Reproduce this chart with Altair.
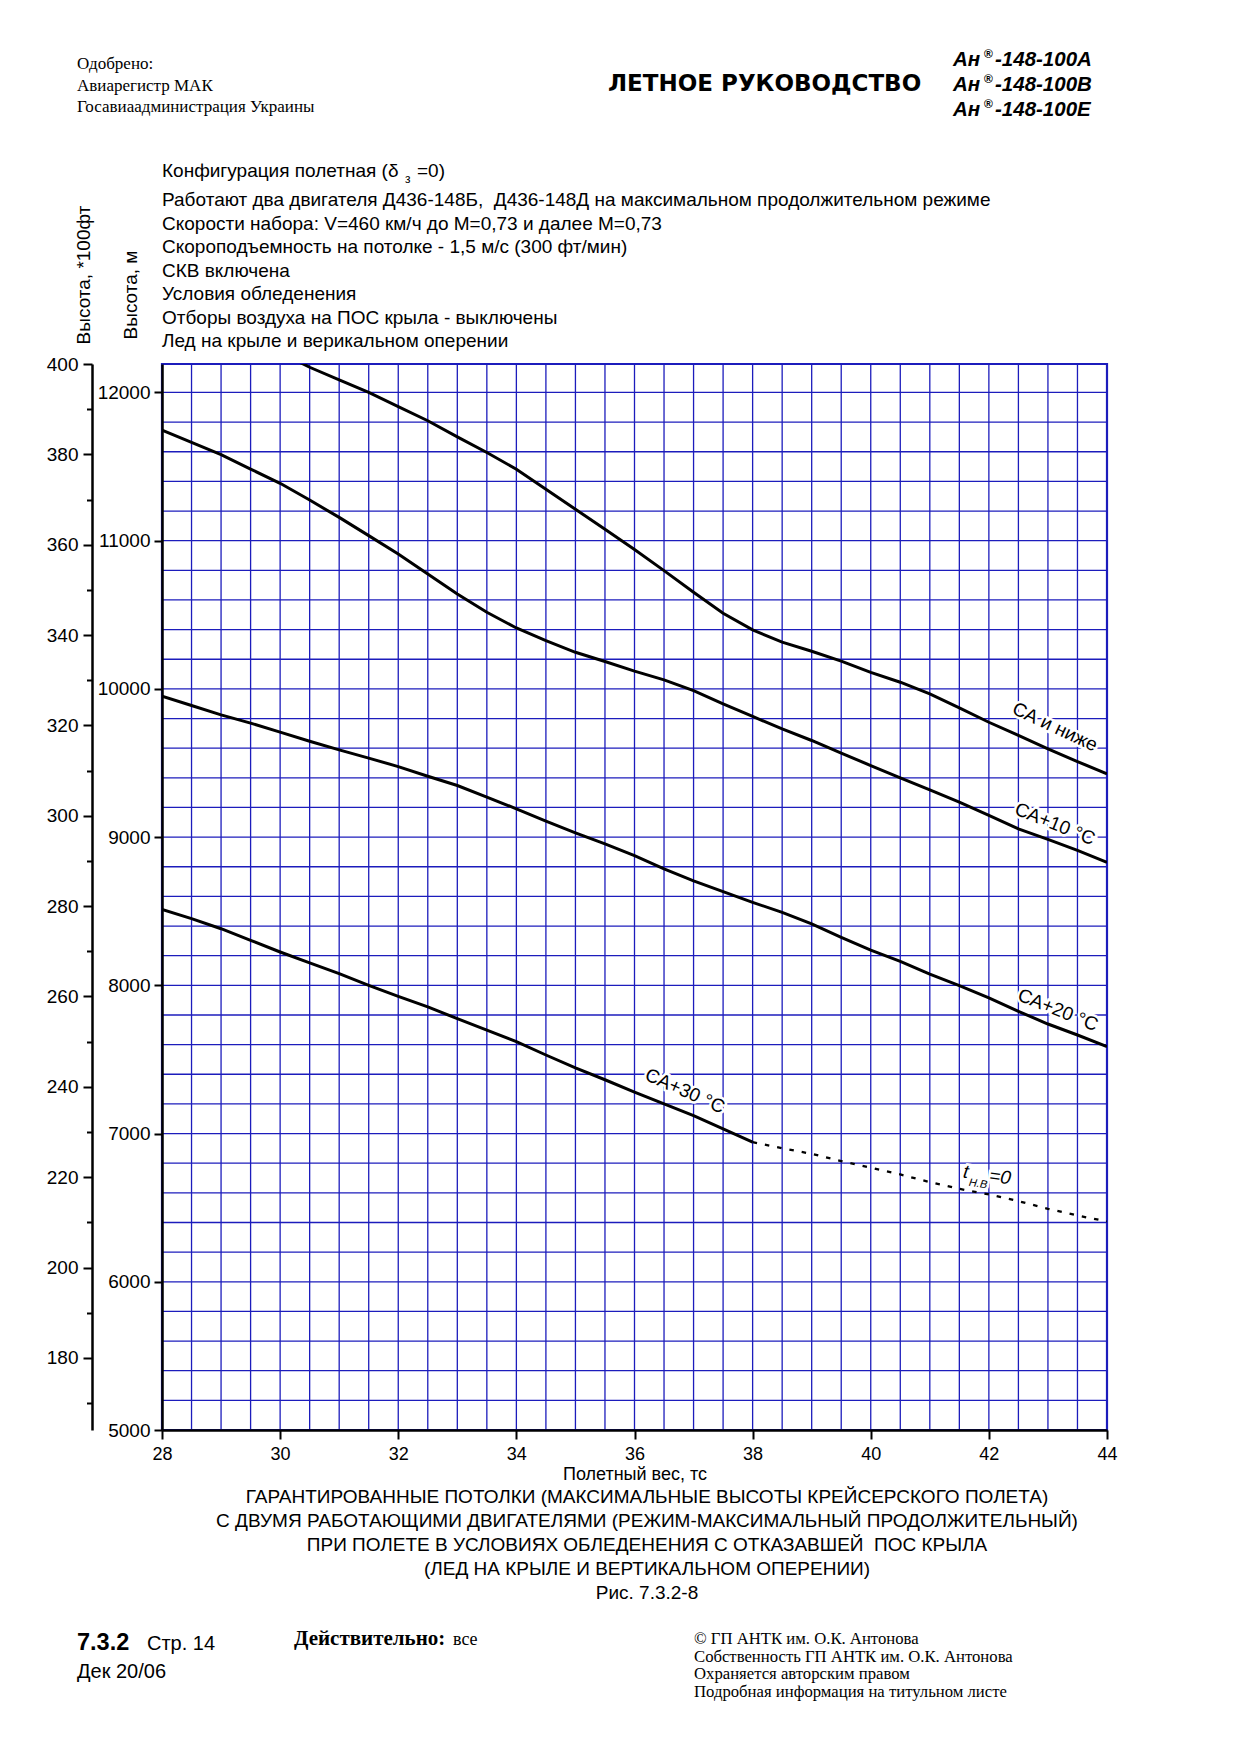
import altair as alt
import pandas as pd

# ---------------- data ----------------
W_ISA = [30.0, 30.5, 31.0, 31.5, 32.0, 32.5, 33.0, 33.5, 34.0, 34.5, 35.0, 35.5, 36.0, 36.5,
         37.0, 37.5, 38.0, 38.5, 39.0, 39.5, 40.0, 40.5, 41.0, 41.5, 42.0, 42.5, 43.0, 43.5, 44.0]
H_ISA = [12270, 12170, 12085, 12000, 11905, 11809, 11700, 11595, 11482, 11347, 11212, 11077, 10940,
         10798, 10652, 10510, 10398, 10315, 10254, 10187, 10112, 10045, 9966, 9872, 9775, 9686, 9596,
         9510, 9427]

W_FULL = [28.0, 28.5, 29.0, 29.5, 30.0, 30.5, 31.0, 31.5, 32.0, 32.5, 33.0, 33.5, 34.0, 34.5, 35.0,
          35.5, 36.0, 36.5, 37.0, 37.5, 38.0, 38.5, 39.0, 39.5, 40.0, 40.5, 41.0, 41.5, 42.0, 42.5,
          43.0, 43.5, 44.0]
H_ISA10 = [11746, 11663, 11580, 11483, 11387, 11274, 11157, 11034, 10910, 10775, 10640, 10517, 10411,
           10326, 10247, 10185, 10120, 10061, 9989, 9899, 9814, 9730, 9652, 9566, 9483, 9400, 9319,
           9236, 9146, 9056, 8985, 8910, 8830]
H_ISA20 = [9951, 9888, 9825, 9769, 9708, 9647, 9589, 9533, 9476, 9411, 9348, 9270, 9191, 9108, 9029,
           8955, 8875, 8785, 8705, 8632, 8560, 8492, 8414, 8324, 8238, 8162, 8076, 7998, 7915, 7825,
           7739, 7665, 7587]

W_ISA30 = [28.0, 28.5, 29.0, 29.5, 30.0, 30.5, 31.0, 31.5, 32.0, 32.5, 33.0, 33.5, 34.0, 34.5, 35.0,
           35.5, 36.0, 36.5, 37.0, 37.5, 38.0]
H_ISA30 = [8512, 8450, 8382, 8304, 8225, 8151, 8079, 8000, 7926, 7855, 7775, 7698, 7620, 7530, 7443,
           7363, 7280, 7200, 7121, 7032, 6942]

W_T0 = [38.0, 38.5, 39.0, 39.5, 40.0, 40.5, 41.0, 41.5, 42.0, 42.5, 43.0, 43.5, 44.0]
H_T0 = [6942, 6901, 6863, 6814, 6769, 6724, 6672, 6627, 6589, 6544, 6492, 6447, 6407]

SERIES_NAMES = ["СА и ниже", "СА+10 °С", "СА+20 °С", "СА+30 °С"]

# axis ticks / grid positions
X_TICKS = [28, 30, 32, 34, 36, 38, 40, 42, 44]
M_TICKS = [5000, 6000, 7000, 8000, 9000, 10000, 11000, 12000]
FT_TICKS = [170, 180, 190, 200, 210, 220, 230, 240, 250, 260, 270, 280, 290, 300, 310, 320, 330,
            340, 350, 360, 370, 380, 390, 400]
GRID_X = [28.5, 29.0, 29.5, 30.0, 30.5, 31.0, 31.5, 32.0, 32.5, 33.0, 33.5, 34.0, 34.5, 35.0, 35.5,
          36.0, 36.5, 37.0, 37.5, 38.0, 38.5, 39.0, 39.5, 40.0, 40.5, 41.0, 41.5, 42.0, 42.5, 43.0,
          43.5]
GRID_Y = [5200, 5400, 5600, 5800, 6000, 6200, 6400, 6600, 6800, 7000, 7200, 7400, 7600, 7800, 8000,
          8200, 8400, 8600, 8800, 9000, 9200, 9400, 9600, 9800, 10000, 10200, 10400, 10600, 10800,
          11000, 11200, 11400, 11600, 11800, 12000]

# texts
HEADER_LEFT = "Одобрено:\nАвиарегистр МАК\nГосавиаадминистрация Украины"
HEADER_TITLE = "ЛЕТНОЕ РУКОВОДСТВО"
MODELS_A = "Ан\nАн\nАн"
MODELS_R = "®\n®\n®"
MODELS_B = "-148-100А\n-148-100В\n-148-100Е"
NOTE1_A = "Конфигурация полетная (δ"
NOTE1_SUB = "з"
NOTE1_B = "=0)"
NOTES = ("Работают два двигателя Д436-148Б,\u00a0 Д436-148Д на максимальном продолжительном режиме\n"
         "Скорости набора: V=460 км/ч до М=0,73 и далее М=0,73\n"
         "Скороподъемность на потолке - 1,5 м/с (300 фт/мин)\n"
         "СКВ включена\n"
         "Условия обледенения\n"
         "Отборы воздуха на ПОС крыла - выключены\n"
         "Лед на крыле и верикальном оперении")
Y_TITLE_FT = "Высота, *100фт"
Y_TITLE_M = "Высота, м"
X_TITLE = "Полетный вес, тс"
CAPTION = ("ГАРАНТИРОВАННЫЕ ПОТОЛКИ (МАКСИМАЛЬНЫЕ ВЫСОТЫ КРЕЙСЕРСКОГО ПОЛЕТА)\n"
           "С ДВУМЯ РАБОТАЮЩИМИ ДВИГАТЕЛЯМИ (РЕЖИМ-МАКСИМАЛЬНЫЙ ПРОДОЛЖИТЕЛЬНЫЙ)\n"
           "ПРИ ПОЛЕТЕ В УСЛОВИЯХ ОБЛЕДЕНЕНИЯ С ОТКАЗАВШЕЙ\u00a0 ПОС КРЫЛА\n"
           "(ЛЕД НА КРЫЛЕ И ВЕРТИКАЛЬНОМ ОПЕРЕНИИ)\n"
           "Рис. 7.3.2-8")
COPYRIGHT = ("© ГП АНТК им. О.К. Антонова\n"
             "Собственность ГП АНТК им. О.К. Антонова\n"
             "Охраняется авторским правом\n"
             "Подробная информация на титульном листе")

# ---------------- styling ----------------
BLUE = "#1c1cbc"
SANS = "Liberation Sans"
SERIF = "Liberation Serif"
PW, PH = 945, 1066

xs = alt.Scale(domain=[28, 44], nice=False, zero=False)
ys = alt.Scale(domain=[5000, 12192], nice=False, zero=False)

X_AXIS = alt.Axis(values=X_TICKS, title=None, grid=False, tickSize=9, tickWidth=2, tickColor="black",
                  domainColor="black", domainWidth=2.5, labelFont=SANS, labelFontSize=18,
                  labelColor="black", labelPadding=6, labelFlush=False, zindex=1, format="d",
                  orient="bottom")
M_AXIS = alt.Axis(values=M_TICKS, orient="left", title=None, grid=False, tickSize=8, tickWidth=2,
                  tickColor="black", domainColor="black", domainWidth=2.5, labelFont=SANS,
                  labelFontSize=19, labelColor="black", labelPadding=4, labelFlush=False, zindex=1,
                  format="d")
FT_AXIS = alt.Axis(values=FT_TICKS, orient="left", offset=70, title=None, grid=False,
                   tickSize={"condition": {"test": "datum.value % 20 == 0", "value": 9}, "value": 5.5},
                   tickWidth=2, tickColor="black", domainColor="black", domainWidth=2.5,
                   labelFont=SANS, labelFontSize=19, labelColor="black", labelPadding=5,
                   labelFlush=False, labelExpr="datum.value % 20 == 0 ? datum.label : ''",
                   zindex=1, format="d")

# ---------------- chart pieces ----------------
grid_v = alt.Chart(pd.DataFrame({"gx": GRID_X})).mark_rule(color=BLUE, strokeWidth=1.3).encode(
    x=alt.X("gx:Q", scale=xs, axis=X_AXIS))
grid_h = alt.Chart(pd.DataFrame({"gy": GRID_Y})).mark_rule(color=BLUE, strokeWidth=1.3).encode(
    y=alt.Y("gy:Q", scale=ys, axis=None))

frames = []
for name, w, h in zip(SERIES_NAMES, [W_ISA, W_FULL, W_FULL, W_ISA30], [H_ISA, H_ISA10, H_ISA20, H_ISA30]):
    frames.append(pd.DataFrame({"w": w, "m": h, "s": name}))
df_lines = pd.concat(frames, ignore_index=True)

dashed = alt.Chart(pd.DataFrame({"w": W_T0, "m": H_T0})).mark_line(
    color="black", strokeWidth=2.3, strokeDash=[4.5, 8], clip=True).encode(
    x=alt.X("w:Q", scale=xs, axis=X_AXIS), y=alt.Y("m:Q", scale=ys, axis=None))

lines = alt.Chart(df_lines).mark_line(color="black", strokeWidth=3, clip=True).encode(
    x=alt.X("w:Q", scale=xs, axis=X_AXIS),
    y=alt.Y("m:Q", scale=ys, axis=M_AXIS),
    detail="s:N")

feet = alt.Chart(pd.DataFrame({"f": [FT_TICKS[0]]})).mark_point(opacity=0).encode(
    y=alt.Y("f:Q", scale=alt.Scale(domain=[164.04, 400], nice=False, zero=False), axis=FT_AXIS))


def txt(s, x, y, size=18, font=SANS, weight="normal", style="normal", align="left",
        baseline="alphabetic", angle=None, lh=None, halo=False):
    kw = dict(font=font, fontSize=size, fontWeight=weight, fontStyle=style, align=align,
              baseline=baseline, lineBreak="\n")
    if angle:
        kw["angle"] = angle
    if lh:
        kw["lineHeight"] = lh
    df = pd.DataFrame({"t": [s]})
    enc = dict(x=alt.value(x), y=alt.value(y), text="t:N")
    out = []
    if halo:
        out.append(alt.Chart(df).mark_text(color="white", stroke="white", strokeWidth=5, **kw).encode(**enc))
    out.append(alt.Chart(df).mark_text(color="black", **kw).encode(**enc))
    return out


texts = []
# header
texts += txt(HEADER_LEFT, -85, -295, size=17, font=SERIF, lh=21.5)
texts += txt(HEADER_TITLE, 446, -273, size=23, font="DejaVu Sans", weight="bold")
texts += txt(MODELS_A, 791, -298, size=20.5, weight="bold", style="italic", lh=25)
texts += txt(MODELS_R, 822, -306, size=12, weight="bold", lh=25)
texts += txt(MODELS_B, 833, -298, size=20.5, weight="bold", style="italic", lh=25)
# notes
texts += txt(NOTE1_A, 0, -187, size=19)
texts += txt(NOTE1_SUB, 243, -181, size=12)
texts += txt(NOTE1_B, 255, -187, size=19)
texts += txt(NOTES, 0, -158, size=19, lh=23.5)
# axis titles
texts += txt(Y_TITLE_FT, -78, -89, size=19, align="center", baseline="middle", angle=270)
texts += txt(Y_TITLE_M, -31, -69, size=19, align="center", baseline="middle", angle=270)
texts += txt(X_TITLE, 473, 1111, size=18, align="center", baseline="middle")
# curve labels
texts += txt(SERIES_NAMES[0], 893, 363, size=19, align="center", baseline="middle", angle=25, halo=True)
texts += txt(SERIES_NAMES[1], 893, 460, size=19, align="center", baseline="middle", angle=22, halo=True)
texts += txt(SERIES_NAMES[2], 896, 646, size=19, align="center", baseline="middle", angle=22, halo=True)
texts += txt(SERIES_NAMES[3], 523, 727, size=19, align="center", baseline="middle", angle=24, halo=True)
texts += txt("t", 804, 808, size=19, style="italic", align="center", baseline="middle", angle=8, halo=True)
texts += txt("Н.В", 816, 820, size=11, style="italic", align="center", baseline="middle", angle=8, halo=True)
texts += txt("=0", 838, 813, size=19, style="italic", align="center", baseline="middle", angle=8, halo=True)
# caption
texts += txt(CAPTION, 485, 1139, size=19, align="center", lh=24)
# footer
texts += txt("7.3.2", -85, 1286, size=23.5, weight="bold")
texts += txt("Стр. 14", -15, 1286, size=20)
texts += txt("Дек 20/06", -85, 1314, size=20)
texts += txt("Действительно:", 132, 1281, size=21, font=SERIF, weight="bold")
texts += txt("все", 291, 1281, size=18, font=SERIF)
texts += txt(COPYRIGHT, 532, 1280, size=16.7, font=SERIF, lh=17.7)

chart = alt.layer(grid_v, grid_h, dashed, lines, feet, *texts).resolve_scale(y="independent").properties(
    width=PW, height=PH, autosize="none",
    padding={"left": 154, "top": 356, "right": 125, "bottom": 311},
).configure_view(stroke=BLUE, strokeWidth=2.2)

chart.save("out.html", embed_options={"renderer": "svg", "actions": False})
